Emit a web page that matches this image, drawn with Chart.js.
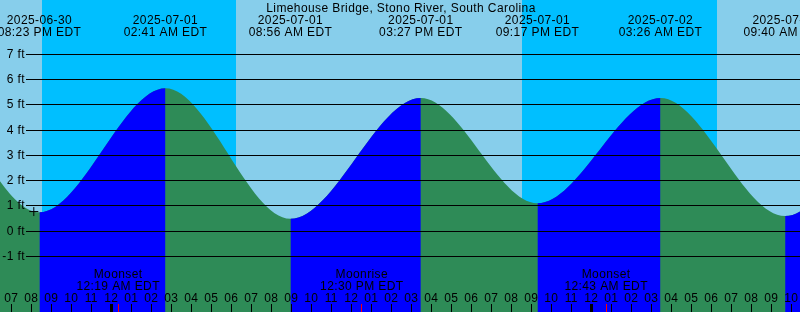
<!DOCTYPE html>
<html>
<head>
<meta charset="utf-8">
<title>Limehouse Bridge tides</title>
<script src="https://cdn.jsdelivr.net/npm/chart.js@4.4.1/dist/chart.umd.min.js"></script>
<style>
  body { margin: 0; background: #87ceeb; }
  canvas { display: block; }
</style>
</head>
<body>
<canvas id="tideChart" width="800" height="312"></canvas>
<script>
// all times are hours counted from 2025-06-30 00:00 EDT
const title = 'Limehouse Bridge, Stono River, South Carolina';

// highs and lows; the first two and last two sit outside the window and only shape the edges
const tideHours = [8.1, 14.4, 20.383, 26.683, 32.933, 39.45, 45.283, 51.433, 57.667, 63.9, 70.0];
const tideFeet = [0.6, 5.6, 0.75, 5.66, 0.49, 5.28, 1.11, 5.28, 0.60, 5.3, 1.0];
const tideDates = ['', '', '2025-06-30', '2025-07-01', '2025-07-01', '2025-07-01', '2025-07-01', '2025-07-02', '2025-07-02', '', ''];
const tideTimes = ['', '', '08:23 PM EDT', '02:41 AM EDT', '08:56 AM EDT', '03:27 PM EDT', '09:17 PM EDT', '03:26 AM EDT', '09:40 AM EDT', '', ''];

const moonHours = [24.317, 36.5, 48.717];
const moonNames = ['Moonset', 'Moonrise', 'Moonset'];
const moonTimes = ['12:19 AM EDT', '12:30 PM EDT', '12:43 AM EDT'];

const sunsetHours = [20.5, 44.5];
const sunriseHours = [30.233, 54.25];

const footLevels = [-1, 0, 1, 2, 3, 4, 5, 6, 7];
const footLabels = ['-1 ft', '0 ft', '1 ft', '2 ft', '3 ft', '4 ft', '5 ft', '6 ft', '7 ft'];

const markHours = [20.1];
const markFeet = [0.78];

const dayColor = '#87ceeb';
const nightColor = '#00bfff';
const floodColor = '#0000ff';
const ebbColor = '#2e8b57';
const font = '12px "Liberation Sans", Arial, sans-serif';

const tidePoints = () => tideHours.map((h, i) => ({ x: h, y: tideFeet[i] }));

const backdrop = {
  id: 'backdrop',
  beforeDatasetsDraw(chart) {
    const { ctx, chartArea: a, scales: { x } } = chart;
    ctx.save();
    ctx.fillStyle = dayColor;
    ctx.fillRect(a.left, a.top, a.width, a.height);
    ctx.fillStyle = nightColor;
    sunsetHours.forEach((h, i) => {
      const x0 = Math.round(x.getPixelForValue(h));
      const x1 = Math.round(x.getPixelForValue(sunriseHours[i]));
      ctx.fillRect(x0, a.top, x1 - x0, a.height);
    });
    ctx.restore();
  }
};

const overlay = {
  id: 'overlay',
  afterDatasetsDraw(chart) {
    const { ctx, chartArea: a, scales: { x, y } } = chart;
    ctx.save();
    ctx.font = font;
    ctx.letterSpacing = '0.4px';
    ctx.fillStyle = '#000';

    // level lines and their labels
    footLevels.forEach((v, i) => {
      const row = Math.floor(y.getPixelForValue(v));
      ctx.fillRect(26, row, a.right - 26, 1);
      ctx.textAlign = 'right';
      ctx.fillText(footLabels[i], 25, row + 4);
    });

    ctx.textAlign = 'center';
    ctx.fillText(title, 401, 12);

    tideHours.forEach((h, i) => {
      if (!tideDates[i]) return;
      const px = x.getPixelForValue(h);
      ctx.fillText(tideDates[i], px, 24);
      ctx.fillText(tideTimes[i], px, 36);
    });

    moonHours.forEach((h, i) => {
      const px = x.getPixelForValue(h);
      ctx.fillText(moonNames[i], px, 278);
      ctx.fillText(moonTimes[i], px, 290);
    });

    // hour ticks along the bottom
    for (let h = Math.ceil(x.min); h <= x.max; h++) {
      const px = x.getPixelForValue(h);
      const col = Math.floor(px);
      let hr = h % 12;
      if (hr === 0) hr = 12;
      ctx.fillStyle = '#000';
      ctx.fillText(String(hr).padStart(2, '0'), px - 0.5, 302);
      if (h % 24 === 0) ctx.fillRect(col - 1, 304, 3, 8);
      else ctx.fillRect(col, 304, 1, 8);
    }

    ctx.fillStyle = '#ff0000';
    moonHours.forEach(h => {
      ctx.fillRect(Math.floor(x.getPixelForValue(h)), 304, 1, 8);
    });
    ctx.restore();
  }
};

new Chart(document.getElementById('tideChart'), {
  type: 'line',
  data: {
    datasets: [
      {
        label: 'mark',
        data: markHours.map((h, i) => ({ x: h, y: markFeet[i] })),
        showLine: false,
        pointStyle: 'cross',
        pointRadius: 4.5,
        pointBorderWidth: 1,
        pointBorderColor: '#000',
        pointBackgroundColor: '#000'
      },
      {
        // rising water, painted over the falling layer
        label: 'Flood',
        data: tidePoints(),
        fill: 'start',
        backgroundColor: 'transparent',
        borderWidth: 0,
        pointRadius: 0,
        cubicInterpolationMode: 'monotone',
        segment: {
          backgroundColor: c => c.p1.parsed.y > c.p0.parsed.y ? floodColor : 'transparent'
        }
      },
      {
        label: 'Ebb',
        data: tidePoints(),
        fill: 'start',
        backgroundColor: ebbColor,
        borderWidth: 0,
        pointRadius: 0,
        cubicInterpolationMode: 'monotone'
      }
    ]
  },
  options: {
    responsive: false,
    animation: false,
    devicePixelRatio: 1,
    layout: { padding: 0, autoPadding: false },
    elements: { line: { capBezierPoints: false } },
    plugins: { legend: { display: false }, tooltip: { enabled: false } },
    scales: {
      x: { type: 'linear', min: 18.41, max: 58.41, display: false },
      y: { min: -3.198, max: 9.158, display: false }
    }
  },
  plugins: [backdrop, overlay]
});
</script>
</body>
</html>
